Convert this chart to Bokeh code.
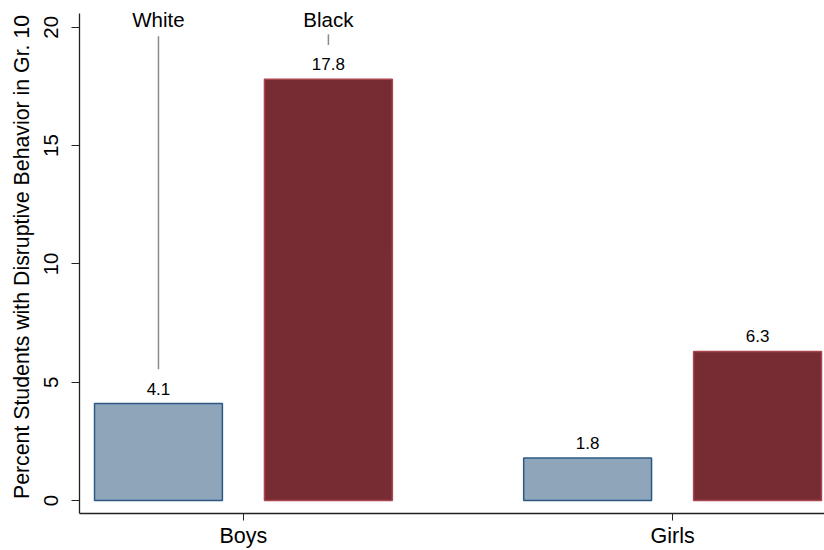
import math
from bokeh.plotting import figure
from bokeh.models import ColumnDataSource, FixedTicker, Range1d
from bokeh.core.properties import value
from bokeh.embed import file_html
from bokeh.resources import INLINE

# ---- data ----
groups = ["Boys", "Girls"]
white = [4.1, 1.8]
black = [17.8, 6.3]
series_names = ["White", "Black"]
y_ticks = [0, 5, 10, 15, 20]

FONT = value("Liberation Sans")
WHITE_FILL, WHITE_LINE = "#8FA5BA", "#2D5A85"
BLACK_FILL, BLACK_LINE = "#772B33", "#A8454F"

gx = [i + 1 for i in range(len(groups))]
off = 0.198
bw = 0.298

p = figure(width=824, height=550, output_backend="svg", toolbar_location=None,
           x_range=Range1d(0.618, 2.354), y_range=Range1d(-0.546, 21.13),
           min_border_left=79, min_border_right=0, min_border_top=0, min_border_bottom=34)
p.outline_line_color = None
p.grid.visible = False
p.background_fill_color = "white"
p.border_fill_color = "white"

src_w = ColumnDataSource(dict(x=[x - off for x in gx], top=white,
                              lab=[f"{v:.1f}" for v in white]))
src_b = ColumnDataSource(dict(x=[x + off for x in gx], top=black,
                              lab=[f"{v:.1f}" for v in black]))

p.vbar(x="x", top="top", bottom=0, width=bw, source=src_w,
       fill_color=WHITE_FILL, line_color=WHITE_LINE, line_width=1.5)
p.vbar(x="x", top="top", bottom=0, width=bw, source=src_b,
       fill_color=BLACK_FILL, line_color=BLACK_LINE, line_width=1.5)

for src in (src_w, src_b):
    p.text(x="x", y="top", text="lab", source=src, text_font=FONT,
           text_font_size="17px", text_align="center", text_baseline="middle",
           y_offset=-15, text_color="black")

# series labels with leader lines above the first group
lx = [gx[0] - off, gx[0] + off]
l_bottom = [white[0] + 1.45, black[0] + 1.45]
p.segment(x0=lx, x1=lx, y0=l_bottom, y1=[19.62, 19.7], line_color="#8A8A8A", line_width=1.5)
p.text(x=lx, y=[20.34, 20.34], text=series_names, text_font=FONT, text_font_size="20.5px",
       text_align="center", text_baseline="middle", text_color="black")

# axes
xa = p.xaxis[0]
xa.ticker = FixedTicker(ticks=gx)
xa.major_label_overrides = {x: g for x, g in zip(gx, groups)}
xa.minor_tick_line_color = None
xa.major_tick_in = 0
xa.major_tick_out = 7
xa.major_label_standoff = 3
xa.major_label_text_font = "Liberation Sans"
xa.major_label_text_font_size = "21.5px"
xa.major_label_text_color = "black"
xa.axis_line_color = "#222222"
xa.major_tick_line_color = "#222222"
xa.axis_line_width = 1.3

ya = p.yaxis[0]
ya.bounds = (-0.546, 20.59)
ya.ticker = FixedTicker(ticks=y_ticks)
ya.minor_tick_line_color = None
ya.major_tick_in = 0
ya.major_tick_out = 8
ya.major_label_orientation = "vertical"
ya.major_label_standoff = 13
ya.major_label_text_font = "Liberation Sans"
ya.major_label_text_font_size = "20.5px"
ya.major_label_text_color = "black"
ya.axis_line_color = "#222222"
ya.major_tick_line_color = "#222222"
ya.axis_line_width = 1.3
ya.axis_label = "Percent Students with Disruptive Behavior in Gr. 10"
ya.axis_label_text_font = "Liberation Sans"
ya.axis_label_text_font_size = "21.3px"
ya.axis_label_text_font_style = "normal"
ya.axis_label_text_color = "black"
ya.axis_label_standoff = 8

open("out.html", "w").write(file_html(p, INLINE))
